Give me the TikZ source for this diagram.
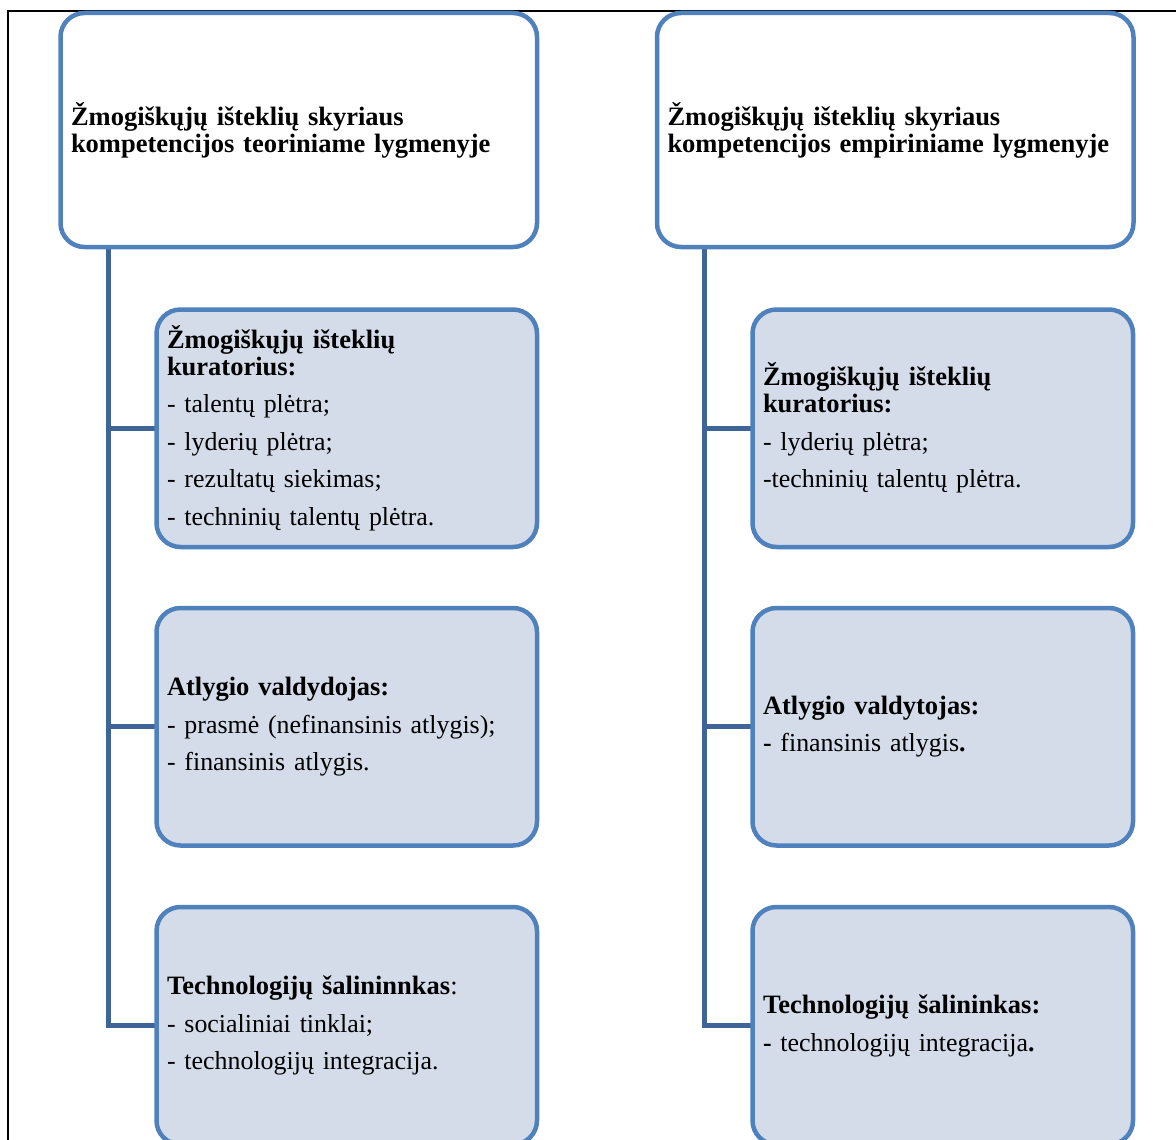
\documentclass[tikz,border=0pt]{standalone}
\usepackage{fontspec}
\setmainfont{Liberation Serif}
\usetikzlibrary{backgrounds,calc}
\definecolor{boxblue}{RGB}{79,129,189}
\definecolor{boxfill}{RGB}{212,220,234}
\definecolor{linkblue}{RGB}{63,100,150}
% slightly smaller size for the plain list lines
\newcommand\plainsz{\fontsize{25.9}{27}\selectfont}

\begin{document}
\begin{tikzpicture}[x=1pt,y=-1pt,
  base/.style={draw=boxblue, line width=4.5pt, rounded corners=24pt,
    outer sep=0pt, anchor=north west, align=left, inner xsep=10.5pt,
    inner ysep=0pt, font=\fontsize{26.5}{27}\selectfont},
  headbox/.style={base, fill=white, text width=455.5pt, minimum height=234pt},
  itembox/.style={base, fill=boxfill, text width=359.5pt, minimum height=237.5pt},
  link/.style={draw=linkblue, line width=5pt},
  framing/.style={draw=black, line width=1.8pt}]

\useasboundingbox (0,0) rectangle (1176,1140);
\begin{scope}
\clip (0,0) rectangle (1176,1140);

% page frame
\draw[framing] (8,1140) -- (8,11) -- (1176,11);

% left column
\node[headbox] (headL) at (60.5,13)
  {\textbf{Žmogiškųjų išteklių skyriaus}\\
   \textbf{kompetencijos teoriniame lygmenyje}};

\node[itembox] (itemL1) at (156.5,309.5)
  {\textbf{Žmogiškųjų išteklių}\\
   \textbf{kuratorius:}\\[10.5pt]
   {\plainsz - talentų plėtra;}\\[10.5pt]
   {\plainsz - lyderių plėtra;}\\[10.5pt]
   {\plainsz - rezultatų siekimas;}\\[10.5pt]
   {\plainsz - techninių talentų plėtra.}};

\node[itembox] (itemL2) at (156.5,608)
  {\textbf{Atlygio valdydojas:}\\[10.5pt]
   {\plainsz - prasmė (nefinansinis atlygis);}\\[10.5pt]
   {\plainsz - finansinis atlygis.}};

\node[itembox] (itemL3) at (156.5,907)
  {\textbf{Technologijų šalininnkas}:\\[10.5pt]
   {\plainsz - socialiniai tinklai;}\\[10.5pt]
   {\plainsz - technologijų integracija.}};

% right column
\node[headbox] (headR) at (657,13)
  {\textbf{Žmogiškųjų išteklių skyriaus}\\
   \textbf{kompetencijos empiriniame lygmenyje}};

\node[itembox] (itemR1) at (752.5,309.5)
  {\textbf{Žmogiškųjų išteklių}\\
   \textbf{kuratorius:}\\[10.5pt]
   {\plainsz - lyderių plėtra;}\\[10.5pt]
   {\plainsz -techninių talentų plėtra.}};

\node[itembox] (itemR2) at (752.5,608)
  {\textbf{Atlygio valdytojas:}\\[10.5pt]
   {\plainsz\textbf{-} finansinis atlygis\textbf{.}}};

\node[itembox] (itemR3) at (752.5,907)
  {\textbf{Technologijų šalininkas:}\\[10.5pt]
   {\plainsz\textbf{-} technologijų integracija\textbf{.}}};

% connectors behind the boxes
\coordinate (trunkL) at ($(headL.south west)+(47.5,0)$);
\coordinate (trunkR) at ($(headR.south west)+(47,0)$);
\begin{scope}[on background layer]
  \draw[link] (trunkL) |- (itemL3.west);
  \draw[link] (trunkL |- itemL1.west) -- (itemL1.west);
  \draw[link] (trunkL |- itemL2.west) -- (itemL2.west);
  \draw[link] (trunkR) |- (itemR3.west);
  \draw[link] (trunkR |- itemR1.west) -- (itemR1.west);
  \draw[link] (trunkR |- itemR2.west) -- (itemR2.west);
\end{scope}
\end{scope}
\end{tikzpicture}
\end{document}
